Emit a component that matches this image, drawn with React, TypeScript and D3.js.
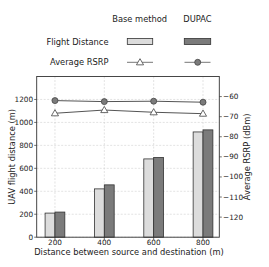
import React from "react";
import { scaleLinear, line, symbol, symbolTriangle } from "d3";

const W = 269;
const H = 267;
const LEFT = 36.7;
const RIGHT = 219.3;
const TOP = 76.5;
const BOTTOM = 237.2;
const FONT = "DejaVu Sans, sans-serif";

const distances = [200, 400, 600, 800];
const baseFlight = [210, 421, 682, 917];
const dupacFlight = [219, 456, 695, 935];
const baseRsrp = [-68.3, -66.7, -67.8, -68.5];
const dupacRsrp = [-62.0, -62.5, -62.3, -62.8];
const leftTicks = [0, 200, 400, 600, 800, 1000, 1200];
const rightTicks = [-120, -110, -100, -90, -80, -70, -60];
const seriesNames = ["Base method", "DUPAC"];
const rowNames = ["Flight Distance", "Average RSRP"];

const BAR_W = 40;
const BASE_FILL = "#dcdcdc";
const DUPAC_FILL = "#7b7b7b";
const EDGE = "#333333";
const GRID = "#d0d0d0";

const x = scaleLinear().domain([126, 866]).range([LEFT, RIGHT]);
const yL = scaleLinear().domain([0, 1400]).range([BOTTOM, TOP]);
const yR = scaleLinear().domain([-130, -50]).range([BOTTOM, TOP]);

const tri = symbol().type(symbolTriangle).size(22)();

export default function App() {
    const rsrpLine = line<[number, number]>()
        .x(d => x(d[0]))
        .y(d => yR(d[1]));
    const basePts: [number, number][] = distances.map((d, i) => [d, baseRsrp[i]]);
    const dupacPts: [number, number][] = distances.map((d, i) => [d, dupacRsrp[i]]);

    return (
        <svg
            width={W}
            height={H}
            style={{ position: "absolute", left: 0, top: 0, background: "#fff" }}
            fontFamily={FONT}
        >
            {/* legend table */}
            <g fontSize={8.3} fill="#222">
                <text x={139.7} y={19} textAnchor="middle" dominantBaseline="central">
                    {seriesNames[0]}
                </text>
                <text x={197.5} y={19} textAnchor="middle" dominantBaseline="central">
                    {seriesNames[1]}
                </text>
                <text x={108.5} y={41.5} textAnchor="end" dominantBaseline="central">
                    {rowNames[0]}
                </text>
                <text x={108.5} y={62.3} textAnchor="end" dominantBaseline="central">
                    {rowNames[1]}
                </text>
            </g>
            <rect x={127.3} y={38.5} width={25.4} height={6} fill={BASE_FILL} stroke={EDGE} strokeWidth={0.8} />
            <rect x={184.3} y={38.5} width={26.4} height={6} fill={DUPAC_FILL} stroke={EDGE} strokeWidth={0.8} />
            <line x1={127} x2={153} y1={62.3} y2={62.3} stroke="#777" strokeWidth={1} />
            <path d={tri} transform="translate(140,62.8)" fill="#fff" stroke="#444" strokeWidth={0.8} />
            <line x1={184.5} x2={210.5} y1={62.3} y2={62.3} stroke="#777" strokeWidth={1} />
            <circle cx={197.7} cy={62.3} r={3} fill={DUPAC_FILL} stroke="#444" strokeWidth={0.8} />

            {/* grid */}
            <g stroke={GRID} strokeWidth={0.6} strokeDasharray="2,1.5">
                {distances.map(d => (
                    <line key={"gx" + d} x1={x(d)} x2={x(d)} y1={TOP} y2={BOTTOM} />
                ))}
                {leftTicks.map(t => (
                    <line key={"gy" + t} x1={LEFT} x2={RIGHT} y1={yL(t)} y2={yL(t)} />
                ))}
            </g>

            {/* bars */}
            {distances.map((d, i) => (
                <g key={"b" + d}>
                    <rect
                        x={x(d - BAR_W)}
                        y={yL(baseFlight[i])}
                        width={x(d) - x(d - BAR_W)}
                        height={BOTTOM - yL(baseFlight[i])}
                        fill={BASE_FILL}
                        stroke={EDGE}
                        strokeWidth={0.8}
                    />
                    <rect
                        x={x(d)}
                        y={yL(dupacFlight[i])}
                        width={x(d + BAR_W) - x(d)}
                        height={BOTTOM - yL(dupacFlight[i])}
                        fill={DUPAC_FILL}
                        stroke={EDGE}
                        strokeWidth={0.8}
                    />
                </g>
            ))}

            {/* RSRP lines */}
            <path d={rsrpLine(basePts) || ""} fill="none" stroke="#555" strokeWidth={1} />
            <path d={rsrpLine(dupacPts) || ""} fill="none" stroke="#555" strokeWidth={1} />
            {basePts.map(p => (
                <path
                    key={"t" + p[0]}
                    d={tri}
                    transform={`translate(${x(p[0])},${yR(p[1]) + 0.5})`}
                    fill="#fff"
                    stroke="#444"
                    strokeWidth={0.8}
                />
            ))}
            {dupacPts.map(p => (
                <circle key={"c" + p[0]} cx={x(p[0])} cy={yR(p[1])} r={3} fill={DUPAC_FILL} stroke="#444" strokeWidth={0.8} />
            ))}

            {/* frame */}
            <rect x={LEFT} y={TOP} width={RIGHT - LEFT} height={BOTTOM - TOP} fill="none" stroke="#333" strokeWidth={0.9} />

            {/* axes */}
            <g fontSize={7.3} fill="#222">
                {distances.map(d => (
                    <g key={"xt" + d}>
                        <line x1={x(d)} x2={x(d)} y1={BOTTOM} y2={BOTTOM + 2.5} stroke="#333" strokeWidth={0.7} />
                        <text x={x(d)} y={242.6} textAnchor="middle" dominantBaseline="central">
                            {d}
                        </text>
                    </g>
                ))}
                {leftTicks.map(t => (
                    <g key={"yl" + t}>
                        <line x1={LEFT - 2.5} x2={LEFT} y1={yL(t)} y2={yL(t)} stroke="#333" strokeWidth={0.7} />
                        <text x={LEFT - 3.6} y={yL(t)} textAnchor="end" dominantBaseline="central">
                            {t}
                        </text>
                    </g>
                ))}
                {rightTicks.map(t => (
                    <g key={"yr" + t}>
                        <line x1={RIGHT} x2={RIGHT + 2.5} y1={yR(t)} y2={yR(t)} stroke="#333" strokeWidth={0.7} />
                        <text x={RIGHT + 3.8} y={yR(t)} textAnchor="start" dominantBaseline="central">
                            {"\u2212" + Math.abs(t)}
                        </text>
                    </g>
                ))}
            </g>

            {/* axis titles */}
            <g fontSize={8.3} fill="#222">
                <text x={(LEFT + RIGHT) / 2 + 1} y={252} textAnchor="middle" dominantBaseline="central">
                    Distance between source and destination (m)
                </text>
                <text
                    transform={`translate(11.5,${(TOP + BOTTOM) / 2}) rotate(-90)`}
                    textAnchor="middle"
                    dominantBaseline="central"
                >
                    UAV flight distance (m)
                </text>
                <text
                    transform={`translate(247,${(TOP + BOTTOM) / 2}) rotate(-90)`}
                    textAnchor="middle"
                    dominantBaseline="central"
                >
                    Average RSRP (dBm)
                </text>
            </g>
        </svg>
    );
}
